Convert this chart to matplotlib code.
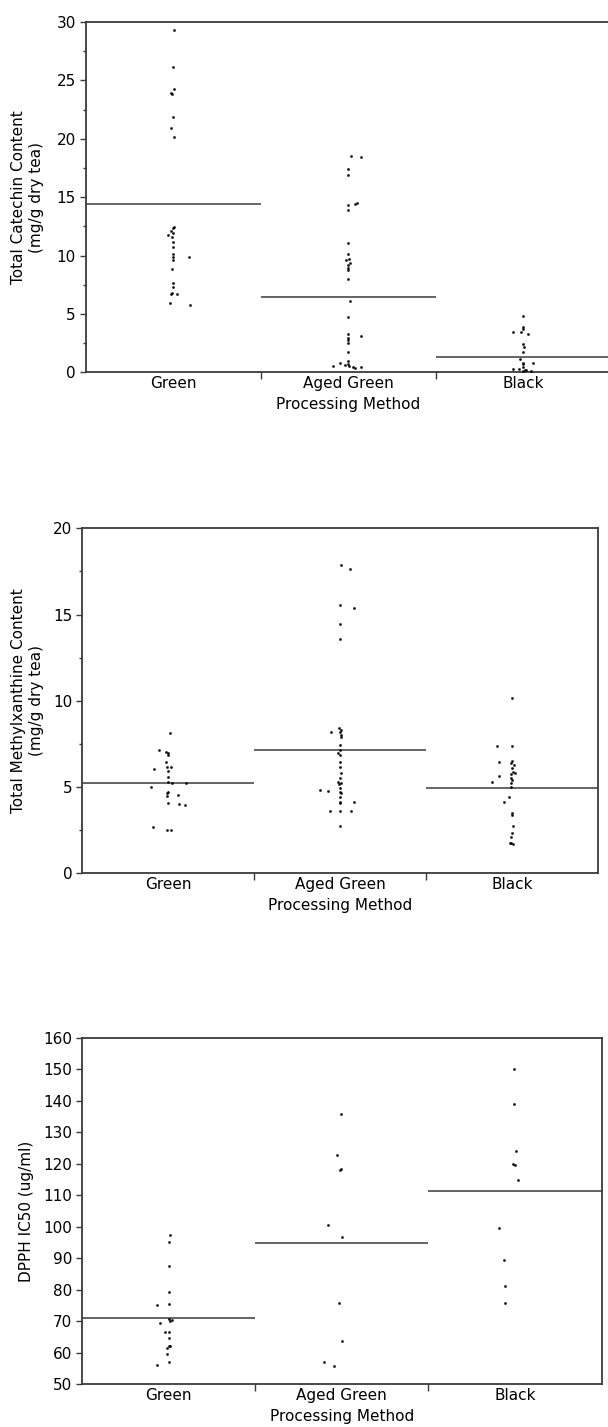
import matplotlib
matplotlib.use('Agg')
import matplotlib.pyplot as plt
from matplotlib.ticker import MultipleLocator

# ---------------- data ----------------
categories = ['Green', 'Aged Green', 'Black']
x_title = 'Processing Method'

# Panel 1: Total catechin content (mg/g dry tea)
cat_green = [29.31, 26.14, 24.23, 23.89, 23.83, 21.88, 20.89, 20.17, 12.47, 12.33,
             12.13, 11.95, 11.76, 11.61, 11.18, 10.75, 10.13, 9.85, 9.85, 9.61,
             8.82, 7.62, 7.28, 6.81, 6.70, 6.67, 5.91, 5.76]
cat_green_jit = [0.006, 0.0, 0.006, -0.011, -0.006, 0.0, -0.011, 0.006, 0.006, 0.0,
                 -0.011, 0.0, -0.029, -0.006, 0.0, 0.0, 0.0, 0.0, 0.092, 0.0,
                 -0.006, 0.0, 0.0, -0.006, 0.023, -0.011, -0.017, 0.098]
cat_aged = [18.55, 18.46, 17.38, 16.89, 14.41, 14.47, 14.32, 13.89, 11.10, 10.13,
            9.61, 9.67, 9.38, 9.19, 8.96, 8.76, 7.99, 6.13, 4.76, 3.28,
            3.13, 2.91, 2.74, 2.51, 1.74, 0.99, 0.82, 0.71, 0.63, 0.54,
            0.54, 0.48, 0.43, 0.40]
cat_aged_jit = [0.017, 0.075, 0.0, 0.0, 0.040, 0.052, 0.0, 0.0, 0.0, 0.0,
                -0.011, 0.006, 0.011, 0.0, 0.0, 0.0, 0.0, 0.011, 0.0, 0.0,
                0.075, 0.0, 0.0, 0.0, 0.0, 0.0, -0.046, 0.0, -0.017, -0.086,
                0.006, 0.029, 0.075, 0.040]
cat_black = [4.85, 3.85, 3.68, 3.48, 3.42, 3.30, 2.42, 2.14, 1.77, 1.11,
             0.82, 0.77, 0.68, 0.48, 0.26, 0.26, 0.20, 0.14, 0.14, 0.17]
cat_black_jit = [0.0, 0.0, 0.0, -0.057, -0.011, 0.029, 0.0, 0.006, 0.0, -0.017,
                 0.0, 0.052, 0.0, 0.0, -0.057, -0.023, 0.017, 0.046, 0.0, 0.011]
cat_means = [14.38, 6.42, 1.28]

# Panel 2: Total methylxanthine content (mg/g dry tea)
mx_green = [8.12, 7.15, 7.01, 6.95, 6.86, 6.47, 6.18, 6.18, 6.03, 5.95,
            5.60, 5.31, 5.25, 5.25, 5.02, 4.73, 4.64, 4.56, 4.47, 4.06,
            4.00, 3.95, 2.67, 2.51, 2.51]
mx_green_jit = [0.011, -0.052, -0.011, 0.0, 0.0, -0.011, 0.017, -0.006, -0.080, 0.0,
                0.0, 0.0, 0.023, 0.103, -0.098, 0.0, -0.006, 0.057, -0.006, 0.0,
                0.063, 0.098, -0.086, -0.006, 0.017]
mx_aged = [17.87, 17.62, 15.55, 15.36, 14.45, 13.57, 8.41, 8.31, 8.17, 8.17,
           8.02, 7.88, 7.44, 7.15, 6.99, 6.86, 6.47, 6.18, 5.80, 5.51,
           5.31, 5.22, 5.16, 4.93, 4.83, 4.79, 4.73, 4.64, 4.41, 4.15,
           4.15, 4.06, 3.64, 3.64, 3.64, 2.76]
mx_aged_jit = [0.006, 0.057, 0.0, 0.080, 0.0, 0.0, -0.006, 0.006, -0.052, 0.0,
               0.006, 0.006, 0.0, 0.0, -0.011, 0.0, 0.0, 0.0, 0.006, 0.0,
               -0.011, 0.006, -0.006, 0.0, -0.115, -0.069, 0.0, 0.006, 0.0, 0.0,
               0.080, 0.0, -0.057, 0.0, 0.063, 0.0]
mx_black = [10.16, 7.38, 7.38, 6.51, 6.43, 6.37, 6.26, 6.09, 5.90, 5.80,
            5.76, 5.64, 5.51, 5.41, 5.28, 5.22, 5.02, 4.41, 4.11, 3.51,
            3.38, 2.76, 2.32, 2.12, 1.77, 1.74, 1.70]
mx_black_jit = [0.0, -0.086, 0.0, 0.0, -0.075, -0.006, 0.011, 0.0, 0.006, 0.017,
                -0.006, -0.075, -0.006, 0.0, -0.115, -0.006, -0.006, -0.017, -0.046, 0.0,
                0.0, 0.006, 0.0, -0.006, -0.006, -0.011, 0.006]
mx_means = [5.25, 7.15, 4.93]

# Panel 3: DPPH IC50 (ug/ml)
dp_green = [97.5, 95.1, 87.5, 79.3, 75.4, 75.1, 70.6, 70.4, 70.2, 69.6,
            66.7, 66.5, 64.6, 62.2, 62.0, 61.5, 59.6, 57.2, 56.1]
dp_green_jit = [0.006, 0.0, 0.0, 0.0, 0.0, -0.069, 0.0, 0.017, 0.006, -0.052,
                -0.023, 0.0, 0.0, 0.006, 0.0, -0.011, -0.011, 0.0, -0.069]
dp_aged = [135.8, 122.8, 118.4, 117.9, 100.5, 96.8, 75.9, 63.8, 57.2, 55.8]
dp_aged_jit = [-0.006, -0.029, -0.006, -0.011, -0.077, 0.0, -0.014, 0.0, -0.103, -0.043]
dp_black = [150.1, 138.8, 123.9, 120.0, 119.5, 114.9, 99.6, 89.6, 81.1, 75.7]
dp_black_jit = [-0.006, -0.006, 0.006, -0.011, 0.0, 0.017, -0.092, -0.063, -0.057, -0.057]
dp_means = [70.9, 94.7, 111.3]

# ---------------- figure ----------------
W, H = 608, 1427
fig = plt.figure(figsize=(W / 100, H / 100), dpi=100)
FONT = 'DejaVu Sans'
FS = 11
SPINE = '#3a3a3a'


def make_panel(box, groups, jits, means, ylim, major, minor, ylabel, label_x=28):
    left, right, top, bottom = box
    ax = fig.add_axes([left / W, 1 - bottom / H, (right - left) / W, (bottom - top) / H])
    for i, (vals, jit) in enumerate(zip(groups, jits)):
        xs = [i + 0.5 + j for j in jit]
        ax.plot(xs, vals, linestyle='none', marker='o', markersize=1.7,
                markerfacecolor='black', markeredgecolor='black', markeredgewidth=0.2,
                zorder=3, clip_on=False)
        ax.plot([i, i + 1], [means[i], means[i]], color='#4a4a4a', lw=1.2, zorder=2,
                solid_capstyle='butt')
    ax.set_xlim(0, 3)
    ax.set_ylim(*ylim)
    ax.yaxis.set_major_locator(MultipleLocator(major))
    if minor:
        ax.yaxis.set_minor_locator(MultipleLocator(minor))
    ax.set_xticks([1, 2])
    ax.set_xticklabels(['', ''])
    ax.set_xticks([0.5, 1.5, 2.5], minor=True)
    ax.set_xticklabels(categories, minor=True, fontsize=FS, family=FONT)
    ax.tick_params(axis='x', which='major', length=5, width=1.0, color=SPINE, direction='out')
    ax.tick_params(axis='x', which='minor', length=0, pad=3.0)
    ax.tick_params(axis='y', which='major', length=4, width=1.0, color=SPINE,
                   labelsize=FS, pad=3)
    ax.tick_params(axis='y', which='minor', length=2.2, width=1.0, color=SPINE)
    for lab in ax.get_yticklabels():
        lab.set_family(FONT)
    for sp in ax.spines.values():
        sp.set_color(SPINE)
        sp.set_linewidth(1.3)
    fig.text(label_x / W, 1 - (top + bottom) / 2 / H, ylabel, rotation=90,
             ha='center', va='center', fontsize=FS, family=FONT,
             multialignment='center', linespacing=1.25)
    fig.text((left + right) / 2 / W, 1 - (bottom + 32) / H, x_title,
             ha='center', va='center', fontsize=FS, family=FONT)
    return ax


make_panel((85.5, 611, 22, 372.3),
           [cat_green, cat_aged, cat_black],
           [cat_green_jit, cat_aged_jit, cat_black_jit],
           cat_means, (0, 30), 5, 2.5,
           'Total Catechin Content\n(mg/g dry tea)')

make_panel((82, 598, 528.3, 873.3),
           [mx_green, mx_aged, mx_black],
           [mx_green_jit, mx_aged_jit, mx_black_jit],
           mx_means, (0, 20), 5, 2.5,
           'Total Methylxanthine Content\n(mg/g dry tea)')

make_panel((82, 601.5, 1037.7, 1384.3),
           [dp_green, dp_aged, dp_black],
           [dp_green_jit, dp_aged_jit, dp_black_jit],
           dp_means, (50, 160), 10, None,
           'DPPH IC50 (ug/ml)', label_x=27)

fig.savefig('out.png', dpi=100, facecolor='white')
